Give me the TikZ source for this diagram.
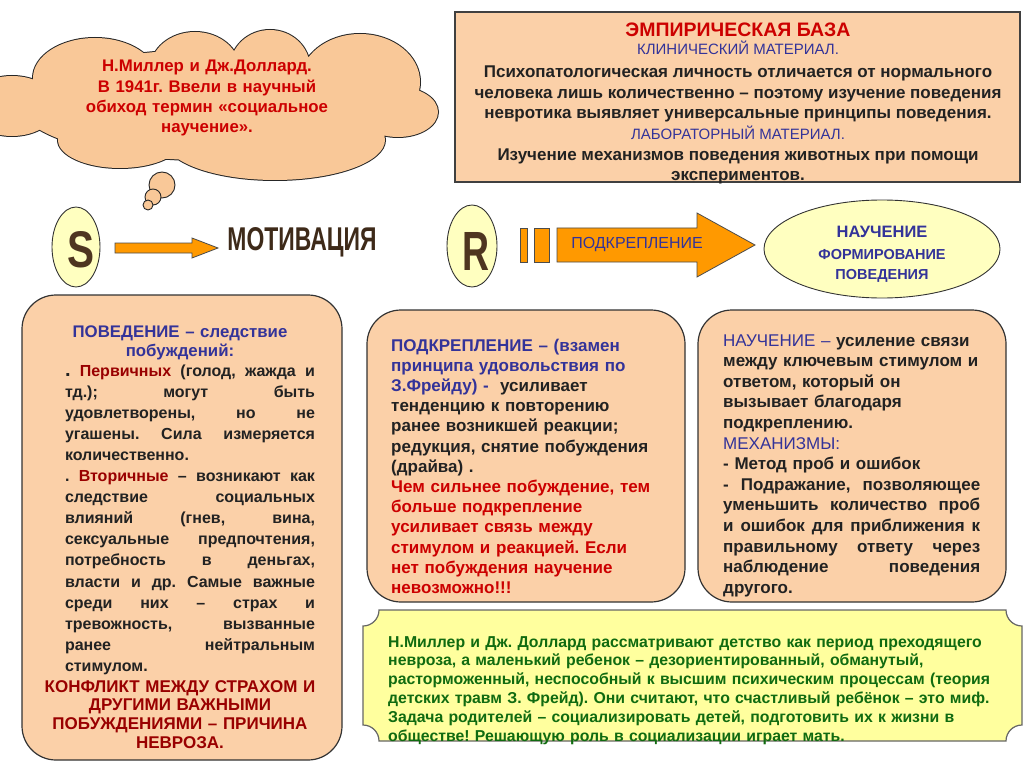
\documentclass[tikz,border=0pt]{standalone}
\usepackage{fontspec}
\usepackage{graphicx}
\setmainfont{Liberation Sans}
\usetikzlibrary{shapes.geometric}
\frenchspacing
\definecolor{peach}{HTML}{FBD0A8}
\definecolor{cloudfill}{HTML}{F9C898}
\definecolor{lyellow}{HTML}{FFFFC0}
\definecolor{plaquefill}{HTML}{FFFF9E}
\definecolor{orng}{HTML}{FF9900}
\definecolor{dblue}{HTML}{333399}
\definecolor{tred}{HTML}{CC0000}
\definecolor{dred}{HTML}{990000}
\definecolor{dgreen}{HTML}{106B10}
\definecolor{txt}{HTML}{222222}
\definecolor{brn}{HTML}{4E3520}
\newcommand{\fsz}[2]{\fontsize{#1}{#2}\selectfont}
\newcommand{\jline}[2]{\makebox[#1][s]{\spaceskip=0pt\xspaceskip=0pt #2}}
\newcommand{\cloudparts}{%
  (95,78) ellipse[x radius=62, y radius=40]
  (195,70) ellipse[x radius=45, y radius=38]
  (270,68) ellipse[x radius=40, y radius=38]
  (360,82) ellipse[x radius=60, y radius=48]
  (398,112) ellipse[x radius=40, y radius=25]
  (275,140) ellipse[x radius=110, y radius=40]
  (120,140) ellipse[x radius=62, y radius=28]
  (12,106) ellipse[x radius=45, y radius=30]
  (205,105) ellipse[x radius=185, y radius=55]}
\begin{document}
\begin{tikzpicture}[x=1pt,y=-1pt,
  every node/.style={inner sep=0pt},
  T/.style={anchor=base, inner sep=0pt},
  roundbox/.style={draw=black!80, line width=1.2pt, fill=peach, rounded corners=34pt},
  barrow/.style={fill=orng, draw=black!70, line width=0.8pt},
  yell/.style={ellipse, draw=black!80, line width=0.9pt, fill=lyellow},
  bub/.style={circle, draw=black!85, line width=0.9pt, fill=cloudfill}]
\fill[white] (0,0) rectangle (1024,767);
\useasboundingbox (0,0) rectangle (1024,767);

% cloud (union of lobes: outline first, then fill on top)
\draw[black!85, line width=2pt] \cloudparts;
\fill[cloudfill] \cloudparts;
\node[bub, minimum size=26pt] (b1) at (162,185) {};
\node[bub, minimum size=16pt] (b2) at (153,197) {};
\node[bub, minimum size=10pt] (b3) at (148,205) {};
\node[T, text width=340pt, align=center, text=tred, font=\bfseries\fsz{16.8}{20.3}] (ctext) at (207,72) {Н.Миллер и Дж.Доллард.\\ В 1941г. Ввели в научный\\ обиход термин «социальное\\ научение».};

% empirical base box
\node[draw=black!75, line width=1.5pt, fill=peach, minimum width=565pt, minimum height=170pt] (emp) at (737.5,97) {};
\node[T, text=tred, font=\bfseries\fsz{19.5}{20}] (t1) at (738,37) {ЭМПИРИЧЕСКАЯ БАЗА};
\node[T, text=dblue, font=\mdseries\fsz{15}{20}] (t2) at (738,55) {КЛИНИЧЕСКИЙ МАТЕРИАЛ.};
\node[T, text=txt, font=\bfseries\fsz{17}{20}] (t3) at (738,78) {Психопатологическая личность отличается от нормального};
\node[T, text=txt, font=\bfseries\fsz{17}{20}] (t4) at (738,99) {человека лишь количественно – поэтому изучение поведения};
\node[T, text=txt, font=\bfseries\fsz{17}{20}] (t5) at (738,119) {невротика выявляет универсальные принципы поведения.};
\node[T, text=dblue, font=\mdseries\fsz{15}{20}] (t6) at (738,140) {ЛАБОРАТОРНЫЙ МАТЕРИАЛ.};
\node[T, text=txt, font=\bfseries\fsz{17}{20}] (t7) at (738,161) {Изучение механизмов поведения животных при помощи};
\node[T, text=txt, font=\bfseries\fsz{17}{20}] (t8) at (738,181) {экспериментов.};

% S -> motivation
\node[yell, minimum width=48pt, minimum height=80pt] (S) at (76,247) {};
\node[text=brn, font=\bfseries] (Sl) at (81,250) {\resizebox{27pt}{36pt}{S}};
\draw[barrow] (115,243) -- (192,243) -- (192,238) -- (218,248) -- (192,258) -- (192,253) -- (115,253) -- cycle;
\node[text=brn!80!black, font=\bfseries] (mot) at (302,242) {\resizebox{149pt}{23pt}{МОТИВАЦИЯ}};

% R -> reinforcement -> learning
\node[yell, minimum width=50pt, minimum height=82pt] (R) at (472,246) {};
\node[text=brn, font=\bfseries] (Rl) at (476,251) {\resizebox{27pt}{38pt}{R}};
\draw[barrow] (520,228) rectangle (527,262);
\draw[barrow] (534,228) rectangle (549,262);
\draw[barrow] (557,228) -- (697,228) -- (697,213) -- (755,245) -- (697,277) -- (697,262) -- (557,262) -- cycle;
\node[text=dblue, font=\mdseries\fsz{16}{18}] (podk) at (637,245) {ПОДКРЕПЛЕНИЕ};
\node[yell, minimum width=236pt, minimum height=98pt] (learn) at (882,249) {};
\node[T, text=dblue, font=\bfseries\fsz{16.5}{20}] (l1) at (882,237) {НАУЧЕНИЕ};
\node[T, text=dblue, font=\bfseries\fsz{14.5}{20}] (l2) at (882,259) {ФОРМИРОВАНИЕ};
\node[T, text=dblue, font=\bfseries\fsz{14.5}{20}] (l3) at (882,279) {ПОВЕДЕНИЯ};

% left box
\node[roundbox, minimum width=320pt, minimum height=465pt] (lbox) at (182,527.5) {};
\node[T, text width=280pt, align=center, text=dblue, font=\bfseries\fsz{16.8}{19}] (lhead) at (180,337) {ПОВЕДЕНИЕ – следствие\\ побуждений:};
\node[T, text width=250pt, align=left, text=txt, font=\bfseries\fsz{16}{21.1}] (lbody) at (190,376) {%
\jline{250pt}{{\fsz{20}{21}.} \textcolor{dred}{Первичных} (голод, жажда и}\\
\jline{250pt}{тд.); могут быть}\\
\jline{250pt}{удовлетворены, но не}\\
\jline{250pt}{угашены. Сила измеряется}\\
количественно.\\
\jline{250pt}{. \textcolor{dred}{Вторичные} – возникают как}\\
\jline{250pt}{следствие социальных}\\
\jline{250pt}{влияний (гнев, вина,}\\
\jline{250pt}{сексуальные предпочтения,}\\
\jline{250pt}{потребность в деньгах,}\\
\jline{250pt}{власти и др. Самые важные}\\
\jline{250pt}{среди них – страх и}\\
\jline{250pt}{тревожность, вызванные}\\
\jline{250pt}{ранее нейтральным}\\
стимулом.};
\node[T, text width=300pt, align=center, text=dred, font=\bfseries\fsz{17}{18.7}] (lred) at (180,692) {КОНФЛИКТ МЕЖДУ СТРАХОМ И\\ ДРУГИМИ ВАЖНЫМИ\\ ПОБУЖДЕНИЯМИ – ПРИЧИНА\\ НЕВРОЗА.};

% middle box
\node[roundbox, minimum width=318pt, minimum height=292pt] (mbox) at (526,456) {};
\node[T, anchor=base west, text width=290pt, align=left, text=txt, font=\bfseries\fsz{17}{20.2}] (mtext) at (391,351) {%
\textcolor{dblue}{ПОДКРЕПЛЕНИЕ – (взамен}\\
\textcolor{dblue}{принципа удовольствия по}\\
\textcolor{dblue}{З.Фрейду) -}\ \ усиливает\\
тенденцию к повторению\\
ранее возникшей реакции;\\
редукция, снятие побуждения\\
(драйва) .\\
\textcolor{tred}{Чем сильнее побуждение, тем}\\
\textcolor{tred}{больше подкрепление}\\
\textcolor{tred}{усиливает связь между}\\
\textcolor{tred}{стимулом и реакцией. Если}\\
\textcolor{tred}{нет побуждения научение}\\
\textcolor{tred}{невозможно!!!}};

% right box
\node[roundbox, minimum width=308pt, minimum height=292pt] (rbox) at (852,456) {};
\node[T, anchor=base west, text width=270pt, align=left, text=txt, font=\bfseries\fsz{17}{20.6}] (rtext) at (723,346) {%
\textcolor{dblue}{\mdseries НАУЧЕНИЕ –} усиление связи\\
между ключевым стимулом и\\
ответом, который он\\
вызывает благодаря\\
подкреплению.\\
\textcolor{dblue}{\mdseries МЕХАНИЗМЫ:}\\
- Метод проб и ошибок\\
\jline{257pt}{- Подражание, позволяющее}\\
\jline{257pt}{уменьшить количество проб}\\
\jline{257pt}{и ошибок для приближения к}\\
\jline{257pt}{правильному ответу через}\\
\jline{257pt}{наблюдение поведения}\\
другого.};

% bottom plaque
\draw[draw=black!60, line width=1.2pt, fill=plaquefill]
  (379,610) -- (1006,610) arc[start angle=180, end angle=90, radius=16]
  -- (1022,725) arc[start angle=270, end angle=180, radius=16]
  -- (379,741) arc[start angle=0, end angle=-90, radius=16]
  -- (363,626) arc[start angle=90, end angle=0, radius=16] -- cycle;
\node[T, anchor=base west, text width=640pt, align=left, text=dgreen, font=\bfseries\fsz{15.8}{18.8}] (ptext) at (388,647) {%
Н.Миллер и Дж. Доллард рассматривают детство как период преходящего\\
невроза, а маленький ребенок – дезориентированный, обманутый,\\
расторможенный, неспособный к высшим психическим процессам (теория\\
детских травм З. Фрейд). Они считают, что счастливый ребёнок – это миф.\\
Задача родителей – социализировать детей, подготовить их к жизни в\\
обществе! Решающую роль в социализации играет мать.};
\end{tikzpicture}
\end{document}
